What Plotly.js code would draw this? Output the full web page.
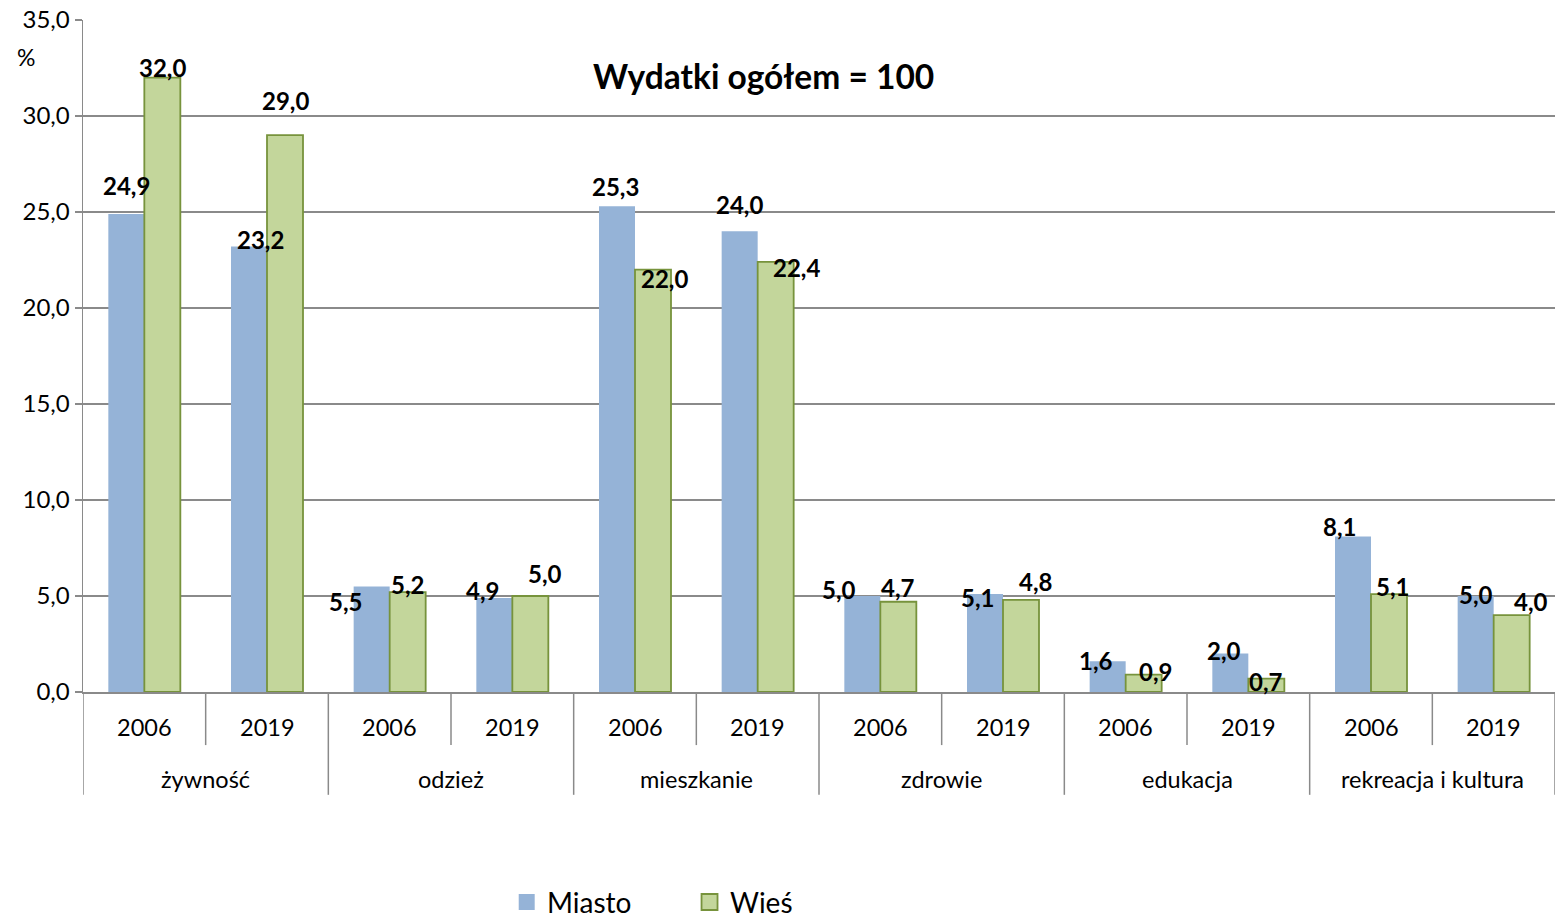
<!DOCTYPE html>
<html>
<head>
<meta charset="utf-8">
<script src="https://cdn.plot.ly/plotly-3.0.1.min.js"></script>
<style>html,body{margin:0;padding:0;background:#fff;}#chart{width:1556px;height:918px;}</style>
</head>
<body>
<div id="chart"></div>
<script>
// ---- data ----
const categories = ['żywność', 'odzież', 'mieszkanie', 'zdrowie', 'edukacja', 'rekreacja i kultura'];
const years = ['2006', '2019'];
const miasto = [24.9, 23.2, 5.5, 4.9, 25.3, 24.0, 5.0, 5.1, 1.6, 2.0, 8.1, 5.0];
const wies   = [32.0, 29.0, 5.2, 5.0, 22.0, 22.4, 4.7, 4.8, 0.9, 0.7, 5.1, 4.0];
const seriesNames = ['Miasto', 'Wieś'];
const chartTitle = 'Wydatki ogółem = 100';
const unitLabel = '%';

// ---- style: label nudges (pixels) ----
const miastoDx = [0, 11, -26, -12, -2, 0, -23, -8, -12, -6, -14, 0];
const miastoDy = [28, 7, -15, 7, 20, 27, 7, -3, 1, 3, 10, 2];
const wiesDx   = [0, 0, 0, 15, 11, 21, 0, 14, 12, 0, 3, 19];
const wiesDy   = [10, 35, 8, 23, -9, -6, 14, 18, 3, -3, 8, 14];

const FONT = 'Lato, "Liberation Sans", sans-serif';
const GRID = '#8a8a8a';
const COL_M = '#95B3D7', COL_W = '#C3D69B', EDGE_W = '#77933C';
const fmt = v => v.toFixed(1).replace('.', ',');

const idx = [];
categories.forEach((c, g) => years.forEach((y, k) => idx.push(g * years.length + k)));

const bargap = 0.413;
const barW = (1 - bargap) / 2;

const traces = [
  {type: 'bar', name: seriesNames[0], x: idx, y: miasto,
   marker: {color: COL_M, line: {width: 0}}, hoverinfo: 'y'},
  {type: 'bar', name: seriesNames[1], x: idx, y: wies,
   marker: {color: COL_W, line: {color: EDGE_W, width: 1.8}}, hoverinfo: 'y'}
];

const annotations = [];
idx.forEach((x, i) => {
  annotations.push({x: x - barW / 2, y: miasto[i], xref: 'x', yref: 'y', text: fmt(miasto[i]),
    showarrow: false, xanchor: 'center', yanchor: 'middle', xshift: miastoDx[i], yshift: miastoDy[i],
    font: {family: FONT, size: 24, color: '#000', weight: 'bold'}});
  annotations.push({x: x + barW / 2, y: wies[i], xref: 'x', yref: 'y', text: fmt(wies[i]),
    showarrow: false, xanchor: 'center', yanchor: 'middle', xshift: wiesDx[i], yshift: wiesDy[i],
    font: {family: FONT, size: 24, color: '#000', weight: 'bold'}});
  annotations.push({x: x, y: -0.052, xref: 'x', yref: 'paper', text: years[i % years.length],
    showarrow: false, xanchor: 'center', yanchor: 'middle',
    font: {family: FONT, size: 23.5, color: '#000'}});
});
categories.forEach((c, g) => {
  annotations.push({x: g * years.length + (years.length - 1) / 2, y: -0.129, xref: 'x', yref: 'paper',
    text: c, showarrow: false, xanchor: 'center', yanchor: 'middle',
    font: {family: FONT, size: 23.5, color: '#000'}});
});
annotations.push({x: 0.4625, y: 0.917, xref: 'paper', yref: 'paper', text: chartTitle, showarrow: false,
  xanchor: 'center', yanchor: 'middle', font: {family: FONT, size: 33.5, color: '#000', weight: 'bold'}});
annotations.push({x: (26 - 83) / 1473, y: 0.945, xref: 'paper', yref: 'paper', text: unitLabel, showarrow: false,
  xanchor: 'center', yanchor: 'middle', font: {family: FONT, size: 23, color: '#000'}});

const shapes = [];
for (let b = 0; b <= idx.length; b++) {
  const xb = b - 0.5;
  const isCat = b % years.length === 0;
  shapes.push({type: 'line', xref: 'x', yref: 'paper', x0: xb, x1: xb, y0: 0, y1: isCat ? -0.153 : -0.079,
    line: {color: GRID, width: 1.5}});
}

// custom legend (paper coordinates)
const legendItems = [
  {name: seriesNames[0], fill: COL_M, edge: COL_M, edgeW: 0, x: 0.296},
  {name: seriesNames[1], fill: COL_W, edge: EDGE_W, edgeW: 1.8, x: 0.4202}
];
const sqW = 16 / 1473, sqH = 16 / 672, legY = -0.3125;
legendItems.forEach(it => {
  shapes.push({type: 'rect', xref: 'paper', yref: 'paper', x0: it.x, x1: it.x + sqW,
    y0: legY - sqH / 2, y1: legY + sqH / 2, fillcolor: it.fill,
    line: {color: it.edge, width: it.edgeW}});
  annotations.push({x: it.x + 26 / 1473, y: legY, xref: 'paper', yref: 'paper', text: it.name,
    showarrow: false, xanchor: 'left', yanchor: 'middle',
    font: {family: FONT, size: 28, color: '#000'}});
});

const layout = {
  width: 1556, height: 918,
  margin: {l: 83, r: 1, t: 20, b: 226, autoexpand: false},
  paper_bgcolor: '#fff', plot_bgcolor: '#fff',
  separators: ', ',
  barmode: 'group', bargap: bargap, bargroupgap: 0,
  font: {family: FONT, color: '#000'},
  showlegend: false,
  xaxis: {range: [-0.5, idx.length - 0.5], showgrid: false, zeroline: false, showticklabels: false,
    ticks: '', showline: true, linecolor: GRID, linewidth: 1.5, fixedrange: true},
  yaxis: {range: [0, 35], dtick: 5, tick0: 0, tickformat: '.1f', showgrid: true, gridcolor: GRID, gridwidth: 1.6,
    zeroline: false, showline: true, linecolor: GRID, linewidth: 1.5, ticks: 'outside', ticklen: 7,
    tickcolor: GRID, tickwidth: 1.5, tickfont: {family: FONT, size: 24, color: '#000'}, fixedrange: true},
  annotations: annotations,
  shapes: shapes
};

Plotly.newPlot('chart', traces, layout, {displayModeBar: false, staticPlot: true});
</script>
</body>
</html>
